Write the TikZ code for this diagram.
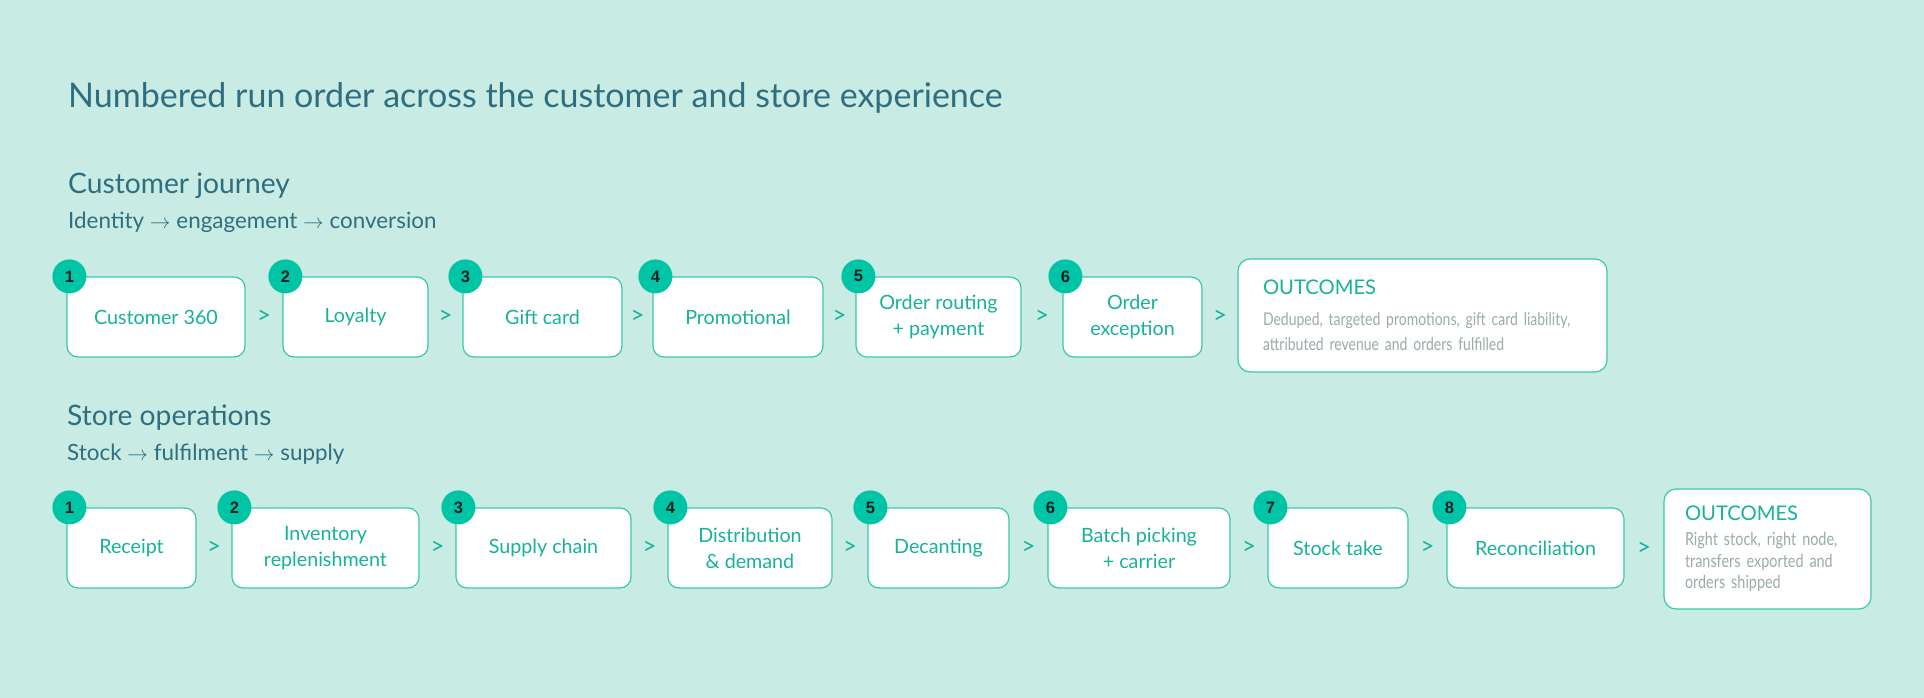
\documentclass[tikz,border=0pt]{standalone}
\usepackage{fontspec}
\setmainfont{Lato}
\newfontfamily\badgefont{Liberation Sans}
\newfontfamily\bodyfont[FakeStretch=0.8]{Lato}
\definecolor{bgmint}{HTML}{C8ECE4}
\definecolor{titlec}{HTML}{2F6E80}
\definecolor{stept}{HTML}{16B29A}
\definecolor{boxline}{HTML}{3AC8AC}
\definecolor{badgec}{HTML}{00C4A6}
\definecolor{numc}{HTML}{102020}
\definecolor{greyc}{HTML}{9AACA8}
\tikzset{
  stepbox/.style={draw=boxline, line width=1.2pt, fill=white, rounded corners=11pt,
    minimum height=80pt, inner sep=0pt, align=center, text=stept,
    font=\fontsize{19.7}{26}\selectfont},
  outbox/.style={draw=boxline, line width=1.2pt, fill=white, rounded corners=12pt,
    inner ysep=0pt, align=left, text=greyc},
  badge/.style={circle, fill=badgec, minimum size=34pt, inner sep=0pt, text=numc,
    font=\badgefont\bfseries\fontsize{16.5}{16.5}\selectfont},
  chev/.style={text=stept, font=\fontsize{24}{24}\selectfont, inner sep=0pt},
  heading/.style={anchor=base west, inner sep=0pt, text=titlec},
}
\newcommand{\outhead}{{\rmfamily\fontsize{20.2}{20}\selectfont\color{stept}OUTCOMES}}

\begin{document}
\begin{tikzpicture}[x=1pt, y=-1pt]

    \fill [bgmint] (0, 0) rectangle (1924, 698);
    \useasboundingbox (0, 0) rectangle (1924, 698);
	% headings
    \node [heading, font=\fontsize{34}{40}\selectfont] (title) at (68, 108) {Numbered run order across the customer and store experience};
	\node [heading, font=\fontsize{28.2}{32}\selectfont] (cjhead) at (68, 193) {Customer journey};
	\node [heading, font=\fontsize{22.4}{26}\selectfont] (cjsub) at (68, 228) {Identity $\rightarrow$ engagement $\rightarrow$ conversion};
	\node [heading, font=\fontsize{28.2}{32}\selectfont] (sohead) at (67, 425) {Store operations};
	\node [heading, font=\fontsize{22.4}{26}\selectfont] (sosub) at (67, 460) {Stock $\rightarrow$ fulfilment $\rightarrow$ supply};
	% customer journey
	\node [stepbox, minimum width=178pt] (c1) at (156, 317) {Customer 360};
	\node [stepbox, minimum width=145pt] (c2) at (355.5, 317) {Loyalty};
	\node [stepbox, minimum width=159pt] (c3) at (542.5, 317) {Gift card};
	\node [stepbox, minimum width=170pt] (c4) at (738, 317) {Promotional};
	\node [stepbox, minimum width=165pt] (c5) at (938.5, 317) {Order routing\\+ payment};
	\node [stepbox, minimum width=139pt] (c6) at (1132.5, 317) {Order\\exception};
	\node [outbox, minimum width=369pt, minimum height=113pt, text width=319pt, inner xsep=25pt,
	  font=\bodyfont\fontsize{17.5}{25}\selectfont] (co) at (1422.5, 315.5)
	  {\outhead\\[6pt]\mbox{Deduped, targeted promotions, gift card liability,}\\\mbox{attributed revenue and orders fulfilled}};
	% store operations
	\node [stepbox, minimum width=129pt] (s1) at (131.5, 548) {Receipt};
	\node [stepbox, minimum width=187pt] (s2) at (325.5, 548) {Inventory\\replenishment};
	\node [stepbox, minimum width=175pt] (s3) at (543.5, 548) {Supply chain};
	\node [stepbox, minimum width=164pt] (s4) at (750, 548) {Distribution\\\& demand};
	\node [stepbox, minimum width=141pt] (s5) at (938.5, 548) {Decanting};
	\node [stepbox, minimum width=182pt] (s6) at (1139, 548) {Batch picking\\+ carrier};
	\node [stepbox, minimum width=140pt] (s7) at (1338, 548) {Stock take};
	\node [stepbox, minimum width=177pt] (s8) at (1535.5, 548) {Reconciliation};
	\node [outbox, minimum width=207pt, minimum height=120pt, text width=165pt, inner xsep=21pt,
	  font=\bodyfont\fontsize{18}{21.5}\selectfont] (so) at (1767.5, 549)
	  {\outhead\\[3.5pt]\mbox{Right stock, right node,}\\\mbox{transfers exported and}\\\mbox{orders shipped}};
	% badges
	\node [badge] (cn1) at ([xshift=3pt]c1.north west) {1};
	\node [badge] (cn2) at ([xshift=3pt]c2.north west) {2};
	\node [badge] (cn3) at ([xshift=3pt]c3.north west) {3};
	\node [badge] (cn4) at ([xshift=3pt]c4.north west) {4};
	\node [badge] (cn5) at ([xshift=3pt]c5.north west) {5};
	\node [badge] (cn6) at ([xshift=3pt]c6.north west) {6};
	\node [badge] (sn1) at ([xshift=3pt]s1.north west) {1};
	\node [badge] (sn2) at ([xshift=3pt]s2.north west) {2};
	\node [badge] (sn3) at ([xshift=3pt]s3.north west) {3};
	\node [badge] (sn4) at ([xshift=3pt]s4.north west) {4};
	\node [badge] (sn5) at ([xshift=3pt]s5.north west) {5};
	\node [badge] (sn6) at ([xshift=3pt]s6.north west) {6};
	\node [badge] (sn7) at ([xshift=3pt]s7.north west) {7};
	\node [badge] (sn8) at ([xshift=3pt]s8.north west) {8};
	% chevrons
	\path (c1) -- (c2) node [chev, midway] (cg1) {>};
	\path (c2) -- (c3) node [chev, midway] (cg2) {>};
	\path (c3) -- (c4) node [chev, midway] (cg3) {>};
	\path (c4) -- (c5) node [chev, midway] (cg4) {>};
	\path (c5) -- (c6) node [chev, midway] (cg5) {>};
	\path (c6) -- (co) node [chev, midway] (cg6) {>};
	\path (s1) -- (s2) node [chev, midway] (sg1) {>};
	\path (s2) -- (s3) node [chev, midway] (sg2) {>};
	\path (s3) -- (s4) node [chev, midway] (sg3) {>};
	\path (s4) -- (s5) node [chev, midway] (sg4) {>};
	\path (s5) -- (s6) node [chev, midway] (sg5) {>};
	\path (s6) -- (s7) node [chev, midway] (sg6) {>};
	\path (s7) -- (s8) node [chev, midway] (sg7) {>};
	\path (s8) -- (so) node [chev, midway] (sg8) {>};
\end{tikzpicture}
\end{document}
